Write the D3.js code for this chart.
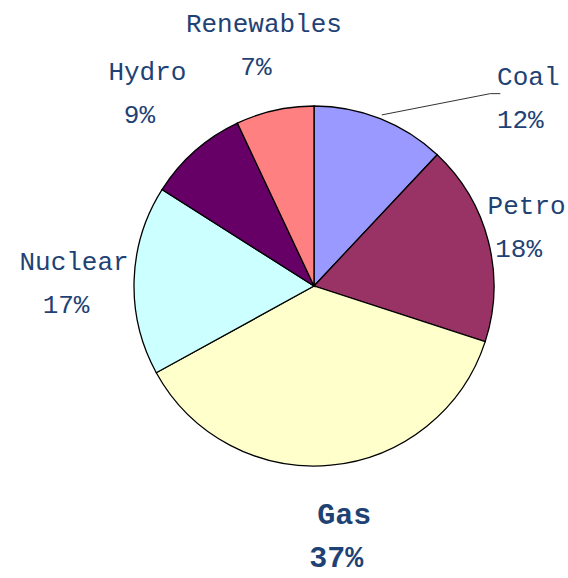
<!DOCTYPE html>
<html>
<head>
<meta charset="utf-8">
<script src="https://cdn.jsdelivr.net/npm/d3@7"></script>
<style>
  html, body { margin: 0; padding: 0; background: #fff; }
  text { font-family: "Liberation Mono", "DejaVu Sans Mono", monospace; fill: #1f4275; }
</style>
</head>
<body>
<div id="chart"></div>
<script>
// Energy mix
const categories = ['Coal', 'Petro', 'Gas', 'Nuclear', 'Hydro', 'Renewables'];
const shares = [12, 18, 37, 17, 9, 7];
const colors = ['#9999ff', '#993366', '#ffffcc', '#ccffff', '#660066', '#ff8080'];

// label placement (radius from centre, optional angle in degrees)
const labelLayout = {
    Coal: { r: 283, angle: 48, leader: true },
    Petro: { r: 217, angle: 74 },
    Gas: { r: 251, angle: 174, bold: true },
    Nuclear: { r: 244, angle: 271 },
    Hydro: { r: 258 },
    Renewables: { r: 248 }
};

const width = 568, height = 578;
const cx = 314, cy = 286, radius = 180;

const svg = d3.select('#chart').append('svg')
    .attr('width', width)
    .attr('height', height);

const g = svg.append('g').attr('transform', `translate(${cx},${cy})`);

const data = categories.map((c, i) => ({ name: c, value: shares[i], color: colors[i] }));

const pie = d3.pie().value(d => d.value).sort(null);
const arc = d3.arc().innerRadius(0).outerRadius(radius);
const arcs = pie(data);

g.selectAll('path.slice')
    .data(arcs)
    .enter().append('path')
    .attr('class', 'slice')
    .attr('d', arc)
    .attr('fill', d => d.data.color)
    .attr('stroke', '#000')
    .attr('stroke-width', 1.3);

function polar(r, a) {
    return [r * Math.sin(a), -r * Math.cos(a)];
}

arcs.forEach(d => {
    const lay = labelLayout[d.data.name];
    const mid = (d.startAngle + d.endAngle) / 2;
    const a = lay.angle != null ? lay.angle * Math.PI / 180 : mid;
    const [x, y] = polar(lay.r, a);

    if (lay.leader) {
        const [x0, y0] = polar(radius + 4, mid);
        g.append('polyline')
            .attr('points', `${x0},${y0} ${x - 34},${y - 3} ${x - 24},${y - 3}`)
            .attr('fill', 'none')
            .attr('stroke', '#333')
            .attr('stroke-width', 1);
    }

    const t = g.append('text')
        .attr('text-anchor', 'middle')
        .attr('font-size', lay.bold ? 30 : 26)
        .attr('font-weight', lay.bold ? 'bold' : 'normal');
    t.append('tspan').attr('x', x + 4).attr('y', y - 12).text(d.data.name);
    t.append('tspan').attr('x', x - 4).attr('y', y + 31).text(d.data.value + '%');
});
</script>
</body>
</html>
